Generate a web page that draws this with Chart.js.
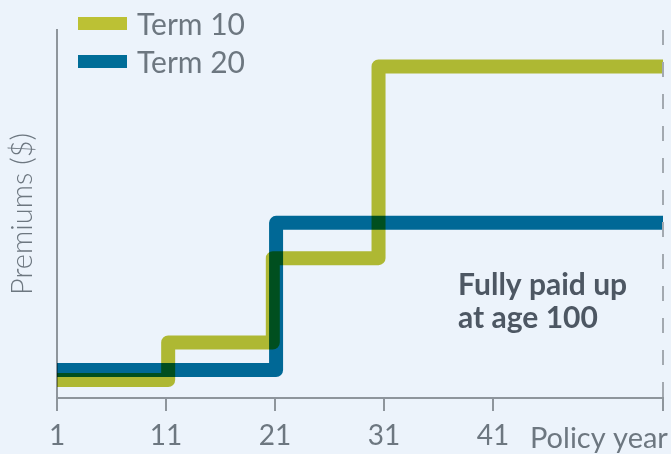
<!DOCTYPE html>
<html>
<head>
<meta charset="utf-8">
<script src="https://cdn.jsdelivr.net/npm/chart.js@4.4.1/dist/chart.umd.min.js"></script>
<style>
  html, body { margin: 0; padding: 0; background: #ECF3FB; }
  #wrap { position: relative; width: 671px; height: 454px; overflow: hidden; }
  #myChart { display: block; }
  #legend { position: absolute; left: 78px; top: 4px; font-family: Lato, sans-serif; font-size: 30px; color: #6D7780; }
  .item { display: flex; align-items: center; height: 38px; white-space: nowrap; }
  .swatch { width: 49px; height: 13px; margin-right: 10px; }
</style>
</head>
<body>
<div id="wrap">
  <canvas id="myChart" width="671" height="454"></canvas>
  <div id="legend"></div>
</div>
<script>
// step points (y is relative premium, 0-100)
const term10Years = [1, 11.2, 20.8, 30.5, 56.6]
const term10Premiums = [4.9, 15.1, 38.0, 90.1, 90.1]
const term20Years = [1, 21.1, 56.6]
const term20Premiums = [7.6, 47.6, 47.6]

const xTickValues = [1, 11, 21, 31, 41]
const endYear = 56.6   // age 100

const seriesNames = ["Term 10", "Term 20"]
const seriesColors = ["#BCC134", "#006D98"]

const axisGray = "#8E959C"
const textGray = "#6D7780"

Chart.defaults.font.family = "Lato, sans-serif"
Chart.defaults.color = textGray

function toPoints(xs, ys) {
    return xs.map((x, i) => ({ x: x, y: ys[i] }))
}

const paperPlugin = {
    id: "paper",
    beforeDraw(chart) {
        const ctx = chart.ctx
        ctx.save()
        ctx.fillStyle = "#ECF3FB"
        ctx.fillRect(0, 0, chart.width, chart.height)
        ctx.restore()
    },
    beforeDatasetsDraw(chart) {
        // lines overlap like ink, darker where they cross
        chart.ctx.save()
        chart.ctx.globalCompositeOperation = "multiply"
    },
    afterDatasetsDraw(chart) {
        chart.ctx.restore()
        const ctx = chart.ctx
        const x = chart.scales.x
        const y = chart.scales.y
        const area = chart.chartArea

        // dashed marker at the end year
        const ex = x.getPixelForValue(endYear)
        ctx.save()
        ctx.strokeStyle = "#A3A9B0"
        ctx.lineWidth = 2
        ctx.setLineDash([15, 17])
        ctx.beginPath()
        ctx.moveTo(ex, area.top)
        ctx.lineTo(ex, area.bottom)
        ctx.stroke()
        ctx.restore()

        // note
        ctx.save()
        ctx.fillStyle = "#4D5763"
        ctx.font = "bold 30px Lato, sans-serif"
        ctx.textAlign = "left"
        ctx.textBaseline = "alphabetic"
        const nx = x.getPixelForValue(37.8)
        ctx.fillText("Fully paid up", nx, y.getPixelForValue(28.0))
        ctx.fillText("at age 100", nx, y.getPixelForValue(19.0))
        ctx.restore()

        // axis name next to the last tick label
        ctx.save()
        ctx.fillStyle = textGray
        ctx.font = "29px Lato, sans-serif"
        ctx.textAlign = "left"
        ctx.textBaseline = "alphabetic"
        ctx.fillText("Policy year", x.getPixelForValue(41) + 37, area.bottom + 50)
        ctx.restore()
    }
}

const chart = new Chart(document.getElementById("myChart"), {
    type: "line",
    data: {
        datasets: [
            {
                label: seriesNames[0],
                data: toPoints(term10Years, term10Premiums),
                borderColor: seriesColors[0],
                backgroundColor: seriesColors[0],
                borderWidth: 14,
                stepped: "before",
                borderJoinStyle: "round",
                pointRadius: 0,
                fill: false
            },
            {
                label: seriesNames[1],
                data: toPoints(term20Years, term20Premiums),
                borderColor: seriesColors[1],
                backgroundColor: seriesColors[1],
                borderWidth: 14,
                stepped: "before",
                borderJoinStyle: "round",
                pointRadius: 0,
                fill: false
            }
        ]
    },
    options: {
        responsive: false,
        animation: false,
        layout: { padding: { left: 5, top: 30, right: 8, bottom: 0 } },
        plugins: {
            legend: { display: false },
            tooltip: { enabled: false }
        },
        scales: {
            x: {
                type: "linear",
                min: 1,
                max: endYear,
                afterBuildTicks: (axis) => {
                    axis.ticks = xTickValues.concat([endYear]).map(v => ({ value: v }))
                },
                afterFit: (axis) => { axis.height = 56 },
                ticks: {
                    autoSkip: false,
                    maxRotation: 0,
                    padding: 8,
                    font: { size: 28 },
                    color: textGray,
                    callback: (v) => v === endYear ? "" : String(v)
                },
                grid: {
                    drawOnChartArea: false,
                    tickLength: 13,
                    color: axisGray,
                    lineWidth: 2
                },
                border: { color: axisGray, width: 2 }
            },
            y: {
                min: 0,
                max: 100,
                afterFit: (axis) => { axis.width = 52 },
                ticks: { display: false },
                grid: { display: false },
                border: { color: axisGray, width: 2 },
                title: {
                    display: true,
                    text: "Premiums ($)",
                    color: textGray,
                    font: { size: 29, weight: 300 },
                    padding: { top: 0, bottom: 0 }
                }
            }
        }
    },
    plugins: [paperPlugin]
})

// legend built from the datasets
const legend = document.getElementById("legend")
chart.data.datasets.forEach(ds => {
    const item = document.createElement("div")
    item.className = "item"
    const swatch = document.createElement("span")
    swatch.className = "swatch"
    swatch.style.background = ds.borderColor
    const label = document.createElement("span")
    label.innerText = ds.label
    item.appendChild(swatch)
    item.appendChild(label)
    legend.appendChild(item)
})
</script>
</body>
</html>
